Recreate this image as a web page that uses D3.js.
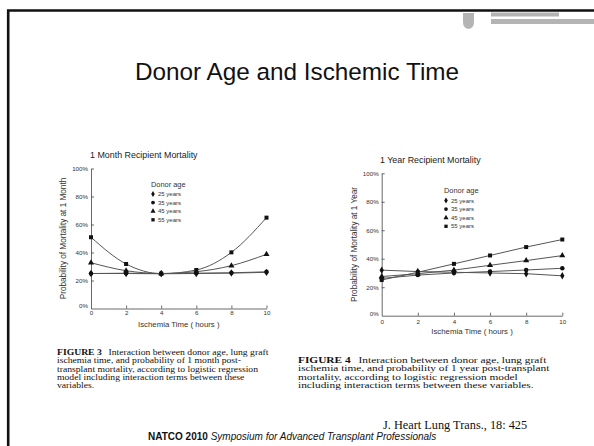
<!DOCTYPE html>
<html>
<head>
<meta charset="utf-8">
<script src="https://cdn.jsdelivr.net/npm/d3@7"></script>
<style>
  body { margin: 0; background: #fff; }
  svg { display: block; }
  .tick text { font-family: Arial, "Liberation Sans", sans-serif; }
</style>
</head>
<body>
<script>
// ischemia time (hours)
const hours = [0, 2, 4, 6, 8, 10];
const ages = ["25 years", "35 years", "45 years", "55 years"];
const markers = ["diamond", "circle", "triangle", "square"];

// probability of mortality (%)
const month25 = [25, 25, 24.8, 25, 25.3, 25.8];
const month35 = [25, 25.2, 25, 25.2, 25.5, 26.2];
const month45 = [32.7, 27, 25, 26.3, 30.6, 38.7];
const month55 = [50.9, 31.8, 24.9, 27.5, 40.1, 64.9];

const year25 = [32, 31, 30.5, 30, 29.5, 28];
const year35 = [26.2, 28.5, 30, 31, 32.1, 33.3];
const year45 = [27.5, 29.5, 32, 35.4, 38.7, 42.2];
const year55 = [25.1, 30.5, 36.4, 42.3, 48.2, 53.5];

const yTicks = [0, 20, 40, 60, 80, 100];
const xTicks = [0, 2, 4, 6, 8, 10];

const W = 594, H = 446;
const svg = d3.select("body").append("svg").attr("width", W).attr("height", H);

// slide frame
svg.append("path")
  .attr("d", `M8.2,${H} L8.2,10.5 L${W},10.5`)
  .attr("fill", "none").attr("stroke", "#111").attr("stroke-width", 2.6);

// logo (grey shield + wordmark blocks)
const logo = svg.append("g").attr("fill", "#b4b4b4");
logo.append("path")
  .attr("d", "M463,13 L474,13 L474,22 Q474,28 468.5,29 Q463,28 463,22 Z");
logo.append("rect").attr("x", 491).attr("y", 12.5).attr("width", 68).attr("height", 4);
logo.append("rect").attr("x", 491).attr("y", 19).attr("width", 103).attr("height", 5);

svg.append("text")
  .attr("x", 297).attr("y", 80)
  .attr("text-anchor", "middle")
  .attr("font-family", "Arial, 'Liberation Sans', sans-serif")
  .attr("font-size", 24.3)
  .attr("fill", "#111")
  .text("Donor Age and Ischemic Time");

function symbolFor(name, size) {
  const t = {diamond: d3.symbolDiamond, circle: d3.symbolCircle, triangle: d3.symbolTriangle, square: d3.symbolSquare}[name];
  return d3.symbol().type(t).size(size)();
}

function drawChart(cfg) {
  const x = d3.scaleLinear().domain([0, 10]).range([cfg.x0, cfg.x1]);
  const y = d3.scaleLinear().domain([0, 100]).range([cfg.y0, cfg.y1]);
  const g = svg.append("g");

  g.append("text")
    .attr("x", cfg.titleX).attr("y", cfg.titleY)
    .attr("font-family", "Arial, 'Liberation Sans', sans-serif")
    .attr("font-size", 8.9).attr("fill", "#222")
    .text(cfg.title);

  const yAxis = g.append("g")
    .attr("transform", `translate(${cfg.x0},0)`)
    .call(d3.axisLeft(y).tickValues(yTicks).tickFormat(d => d + "%").tickSizeInner(-3).tickSizeOuter(0).tickPadding(3));
  const xAxis = g.append("g")
    .attr("transform", `translate(0,${cfg.y0})`)
    .call(d3.axisBottom(x).tickValues(xTicks).tickSizeInner(-3).tickSizeOuter(0).tickPadding(cfg.xPad));
  [yAxis, xAxis].forEach(a => {
    a.select(".domain").attr("stroke", "#444").attr("stroke-width", 0.8);
    a.selectAll(".tick line").attr("stroke", "#444").attr("stroke-width", 0.8);
    a.selectAll(".tick text").attr("font-size", 6.2).attr("fill", "#333");
  });
  xAxis.selectAll(".tick line").filter(d => d === 0).remove();
  yAxis.selectAll(".tick line").filter(d => d === 0).remove();
  yAxis.selectAll(".tick text").filter(d => d === 0).attr("dy", "-0.1em");

  g.append("text")
    .attr("x", (cfg.x0 + cfg.x1) / 2).attr("y", cfg.y0 + 18)
    .attr("text-anchor", "middle")
    .attr("font-family", "Arial, 'Liberation Sans', sans-serif")
    .attr("font-size", 7.8).attr("fill", "#333")
    .text("Ischemia Time ( hours )");

  g.append("text")
    .attr("transform", `translate(${cfg.x0 - 25},${(cfg.y0 + cfg.y1) / 2}) rotate(-90)`)
    .attr("text-anchor", "middle")
    .attr("font-family", "Arial, 'Liberation Sans', sans-serif")
    .attr("font-size", 8.2).attr("fill", "#333")
    .text(cfg.yTitle);

  const line = d3.line().x((d, i) => x(hours[i])).y(d => y(d)).curve(cfg.curve);
  cfg.series.forEach((s, k) => {
    g.append("path").attr("d", line(s))
      .attr("fill", "none").attr("stroke", "#555").attr("stroke-width", 1);
    s.forEach((v, i) => {
      g.append("path")
        .attr("transform", `translate(${x(hours[i])},${y(v)})`)
        .attr("d", symbolFor(markers[k], 16))
        .attr("fill", "#111");
    });
  });

  // legend
  const lg = g.append("g").attr("font-family", "Arial, 'Liberation Sans', sans-serif").attr("fill", "#333");
  lg.append("text").attr("x", cfg.legX - 2).attr("y", cfg.legY).attr("font-size", 7.4).text("Donor age");
  ages.forEach((a, k) => {
    const yy = cfg.legY + 9.5 + k * 8.6;
    lg.append("path").attr("transform", `translate(${cfg.legX},${yy - 2})`)
      .attr("d", symbolFor(markers[k], 11)).attr("fill", "#111");
    lg.append("text").attr("x", cfg.legX + 5).attr("y", yy).attr("font-size", 6).text(a);
  });
}

drawChart({
  title: "1 Month Recipient Mortality", titleX: 90, titleY: 158,
  yTitle: "Probability of Mortality at 1 Month",
  x0: 91, x1: 266.5, y0: 308.5, y1: 168.5, xPad: 2.5,
  legX: 153, legY: 186.5,
  curve: d3.curveMonotoneX,
  series: [month25, month35, month45, month55]
});

drawChart({
  title: "1 Year Recipient Mortality", titleX: 380, titleY: 163,
  yTitle: "Probability of Mortality at 1 Year",
  x0: 381.7, x1: 562.3, y0: 315.7, y1: 173.3, xPad: 3.5,
  legX: 446, legY: 193,
  curve: d3.curveLinear,
  series: [year25, year35, year45, year55]
});

// captions (scanned text is a little stretched sideways)
function caption(x0, y0, size, sx, gap, lines) {
  const t = svg.append("text")
    .attr("transform", `translate(${x0},${y0}) scale(${sx},1)`)
    .attr("font-family", "'Liberation Serif', 'Times New Roman', serif")
    .attr("font-size", size).attr("fill", "#111");
  lines.forEach((ln, i) => {
    const ts = t.append("tspan").attr("x", 0).attr("y", i * gap);
    if (i === 0) {
      ts.append("tspan").attr("font-weight", "bold").text(ln[0]);
      ts.append("tspan").attr("dx", size * 0.7).text(ln[1]);
    } else {
      ts.text(ln);
    }
  });
}

caption(57, 355, 8.4, 1.15, 8.3, [
  ["FIGURE 3", "Interaction between donor age, lung graft"],
  "ischemia time, and probability of 1 month post-",
  "transplant mortality, according to logistic regression",
  "model including interaction terms between these",
  "variables."
]);

caption(298, 363, 8.6, 1.32, 8.5, [
  ["FIGURE 4", "Interaction between donor age, lung graft"],
  "ischemia time, and probability of 1 year post-transplant",
  "mortality, according to logistic regression model",
  "including interaction terms between these variables."
]);

// footer
svg.append("text")
  .attr("x", 383).attr("y", 429)
  .attr("font-family", "'Liberation Serif', 'Times New Roman', serif")
  .attr("font-size", 12.3).attr("fill", "#111")
  .text("J. Heart Lung Trans., 18: 425");

const foot = svg.append("text")
  .attr("x", 148).attr("y", 440)
  .attr("font-family", "Arial, 'Liberation Sans', sans-serif")
  .attr("font-size", 10).attr("fill", "#111");
foot.append("tspan").attr("font-weight", "bold").text("NATCO 2010 ");
foot.append("tspan").attr("font-style", "italic").text("Symposium for Advanced Transplant Professionals");
</script>
</body>
</html>
